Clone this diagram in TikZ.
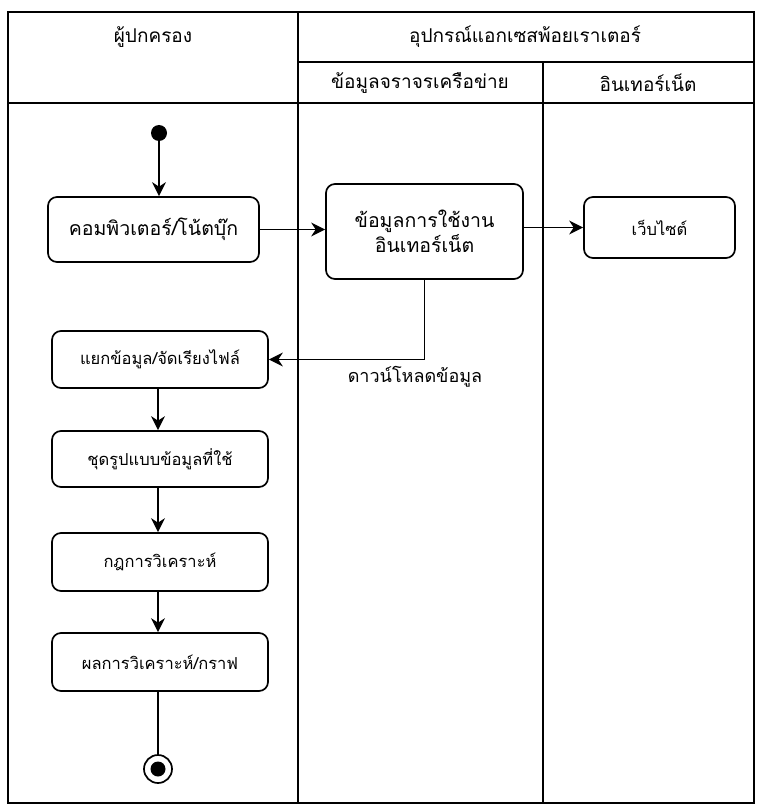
\documentclass[tikz,border=0pt]{standalone}
\usepackage{fontspec}
\newfontfamily\thaifont[Script=Thai]{Loma}
\usetikzlibrary{arrows.meta}
\begin{document}
\begin{tikzpicture}[x=1pt,y=-1pt, font=\thaifont,
  act/.style={draw, line width=1.7pt, rounded corners=9pt, align=center, inner sep=0pt},
  headtxt/.style={font=\thaifont\fontsize{19}{24}\selectfont},
  bigtxt/.style={font=\thaifont\fontsize{19.5}{25}\selectfont},
  smalltxt/.style={font=\thaifont\fontsize{16.5}{20}\selectfont},
  labeltxt/.style={font=\thaifont\fontsize{18}{22}\selectfont},
  flow/.style={line width=1.7pt, -{Stealth[length=14pt,width=14pt,inset=4.5pt]}},
  plain/.style={line width=1.7pt},
  lane/.style={line width=1.7pt}]
\useasboundingbox (0,0) rectangle (756,805);
% swimlane frame
\draw[lane] (8,12) rectangle (754,803);
\draw[lane] (298,12) -- (298,803);
\draw[lane] (298,62) -- (754,62);
\draw[lane] (543,62) -- (543,803);
\draw[lane] (8,103) -- (754,103);
% lane titles
\node[headtxt] (h1) at (153,37) {ผู้ปกครอง};
\node[headtxt] (h2) at (525,37) {อุปกรณ์แอกเซสพ้อยเราเตอร์};
\node[headtxt] (h3) at (420,83) {ข้อมูลจราจรเครือข่าย};
\node[headtxt] (h4) at (648,83) {อินเทอร์เน็ต};
% start / end
\node[circle, fill, inner sep=0pt, minimum size=16pt] (start) at (159,133) {};
\node[circle, draw, line width=1.7pt, fill=white, inner sep=0pt, minimum size=28pt] (stop) at (158,769) {};
\node[circle, fill, inner sep=0pt, minimum size=15pt] (stopdot) at (158,769) {};
% activities
\node[act, bigtxt, minimum width=211pt, minimum height=65pt] (pc) at (153.5,229.5) {คอมพิวเตอร์/โน้ตบุ๊ก};
\node[act, bigtxt, minimum width=197pt, minimum height=95pt] (usage) at (424.5,231.5) {ข้อมูลการใช้งาน\\อินเทอร์เน็ต};
\node[act, smalltxt, minimum width=151pt, minimum height=61pt] (web) at (659.5,227.5) {เว็บไซต์};
\node[act, smalltxt, minimum width=216pt, minimum height=57pt] (sort) at (160,359.5) {แยกข้อมูล/จัดเรียงไฟล์};
\node[act, smalltxt, minimum width=216pt, minimum height=56pt] (fmt) at (160,459) {ชุดรูปแบบข้อมูลที่ใช้};
\node[act, smalltxt, minimum width=216pt, minimum height=58pt] (rule) at (160,562) {กฎการวิเคราะห์};
\node[act, smalltxt, minimum width=216pt, minimum height=58pt] (res) at (160,662) {ผลการวิเคราะห์/กราฟ};
% flows
\draw[flow] (start) -- (start |- pc.north);
\draw[flow] (pc.east) -- (pc.east -| usage.west);
\draw[flow] (web.west -| usage.east) -- (web.west);
\draw[flow] (usage.south) |- (sort.east);
\node[labeltxt] (dl) at (415,377) {ดาวน์โหลดข้อมูล};
\draw[flow] (sort.south -| 158,0) -- (fmt.north -| 158,0);
\draw[flow] (fmt.south -| 158,0) -- (rule.north -| 158,0);
\draw[flow] (rule.south -| 158,0) -- (res.north -| 158,0);
\draw[plain] (res.south -| stop) -- (stop);
\end{tikzpicture}
\end{document}
